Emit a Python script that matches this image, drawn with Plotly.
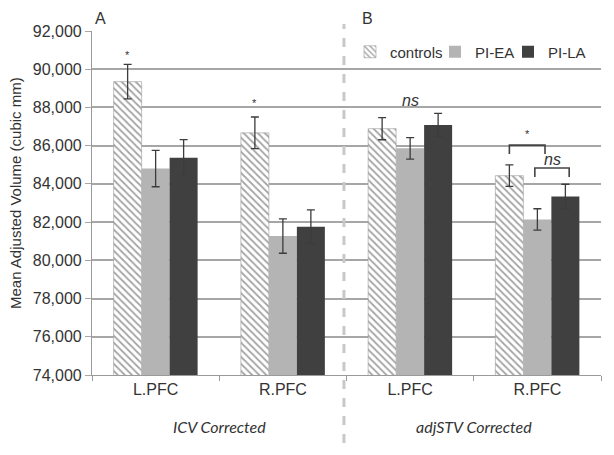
import plotly.graph_objects as go

# data
categories = ["L.PFC", "R.PFC", "L.PFC", "R.PFC"]
controls = [89350, 86670, 86890, 84430]
controls_err = [900, 830, 580, 560]
pi_ea = [84800, 81270, 85860, 82140]
pi_ea_err = [950, 900, 560, 560]
pi_la = [85370, 81760, 87080, 83340]
pi_la_err = [950, 880, 610, 640]
groups = ["ICV Corrected", "adjSTV Corrected"]
panels = ["A", "B"]

xpos = list(range(len(categories)))
err_style = dict(type="data", thickness=1.3, width=4, color="#3c3c3c")
font = "Liberation Sans, Arial, sans-serif"

# page body has an 8px margin, so figure is 8px smaller and plot area shifted
W, H = 606, 447
L, R, T, B = 84, 13, 23, 80
pw, ph = W - L - R, H - T - B


def px(x):  # screen pixel -> paper x
    return (x - 8 - L) / pw


def py(y):  # screen pixel -> paper y
    return (H - B - (y - 8)) / ph


fig = go.Figure()
fig.add_trace(go.Bar(x=xpos, y=controls, name="controls", legendwidth=40,
                     error_y=dict(array=controls_err, **err_style),
                     marker=dict(color="white", line=dict(color="#9a9a9a", width=0.6),
                                 pattern=dict(shape="\\", fgcolor="#4a4a4a", bgcolor="white",
                                              size=5, solidity=0.35))))
fig.add_trace(go.Bar(x=xpos, y=pi_ea, name="PI-EA", legendwidth=28,
                     error_y=dict(array=pi_ea_err, **err_style),
                     marker=dict(color="#b4b4b4", line=dict(width=0))))
fig.add_trace(go.Bar(x=xpos, y=pi_la, name="PI-LA",
                     error_y=dict(array=pi_la_err, **err_style),
                     marker=dict(color="#404040", line=dict(width=0))))

fig.update_layout(
    width=W, height=H,
    margin=dict(l=L, r=R, t=T, b=B, autoexpand=False),
    paper_bgcolor="white", plot_bgcolor="white",
    barmode="group", bargap=0.34, bargroupgap=0,
    font=dict(family=font, size=15, color="#333333"),
    showlegend=True,
    legend=dict(orientation="h", x=px(350), y=py(52), xanchor="left", yanchor="middle",
                bgcolor="rgba(0,0,0,0)", font=dict(size=15, color="#333333"),
                itemwidth=30, tracegroupgap=0),
)
fig.update_xaxes(range=[-0.5, 3.5], autorange=False, tickvals=xpos, ticktext=categories,
                 ticks="", showline=True, linecolor="#9a9a9a", linewidth=1.2, showgrid=False,
                 tickfont=dict(size=16),
                 minor=dict(tickvals=[-0.5, 0.5, 1.5, 2.5, 3.5], ticks="outside",
                            ticklen=5, tickcolor="#9a9a9a", showgrid=False))
fig.update_yaxes(range=[74000, 92000], autorange=False, dtick=2000, tickformat=",",
                 ticks="outside", ticklen=6, tickcolor="#a6a6a6", showline=True,
                 linecolor="#9a9a9a", linewidth=1.2, showgrid=True, gridcolor="#a6a6a6",
                 gridwidth=1.6, tickfont=dict(size=16), zeroline=False)

# dashed separator between the two panels
fig.add_shape(type="line", xref="x", yref="paper", x0=1.48, x1=1.48, y0=py(443), y1=py(24),
              line=dict(color="#c8c8c8", width=3, dash="dash"))

# significance brackets
off = 0.22
brackets = [(3 - off, 3 + 0.06, 86030, 85560), (3 - 0.02, 3 + off + 0.03, 84830, 84360)]
for x0, x1, ytop, ybot in brackets:
    fig.add_shape(type="path", xref="x", yref="y",
                  path=f"M {x0},{ybot} L {x0},{ytop} L {x1},{ytop} L {x1},{ybot}",
                  line=dict(color="#444444", width=1.6))

notes = [("*", 0 - off, 90750, False), ("*", 1 - off, 88250, False),
         ("ns", 2, 88350, True), ("*", 3 - 0.08, 86600, False), ("ns", 3 + 0.12, 85300, True)]
for txt, x, y, ital in notes:
    fig.add_annotation(x=x, y=y, xref="x", yref="y", text=f"<i>{txt}</i>" if ital else txt,
                       showarrow=False, xanchor="center", yanchor="middle",
                       font=dict(size=16 if ital else 11, color="#333333"))

# panel letters and group subtitles
for p, x in zip(panels, [100, 367]):
    fig.add_annotation(x=px(x), y=py(19), xref="paper", yref="paper", text=p,
                       showarrow=False, xanchor="center", yanchor="middle",
                       font=dict(size=16, color="#333333"))
for i, g in enumerate(groups):
    fig.add_annotation(x=0.5 + 2 * i, y=py(426), xref="x", yref="paper", text=f"<i>{g}</i>",
                       showarrow=False, xanchor="center", yanchor="middle",
                       font=dict(family="Lato, Open Sans, sans-serif", size=16, color="#333333"))

fig.add_annotation(x=px(16), y=py(193), xref="paper", yref="paper",
                   text="Mean Adjusted Volume (cubic mm)", textangle=-90, showarrow=False,
                   xanchor="center", yanchor="middle",
                   font=dict(size=15, color="#333333"))

fig.write_html("out.html")
